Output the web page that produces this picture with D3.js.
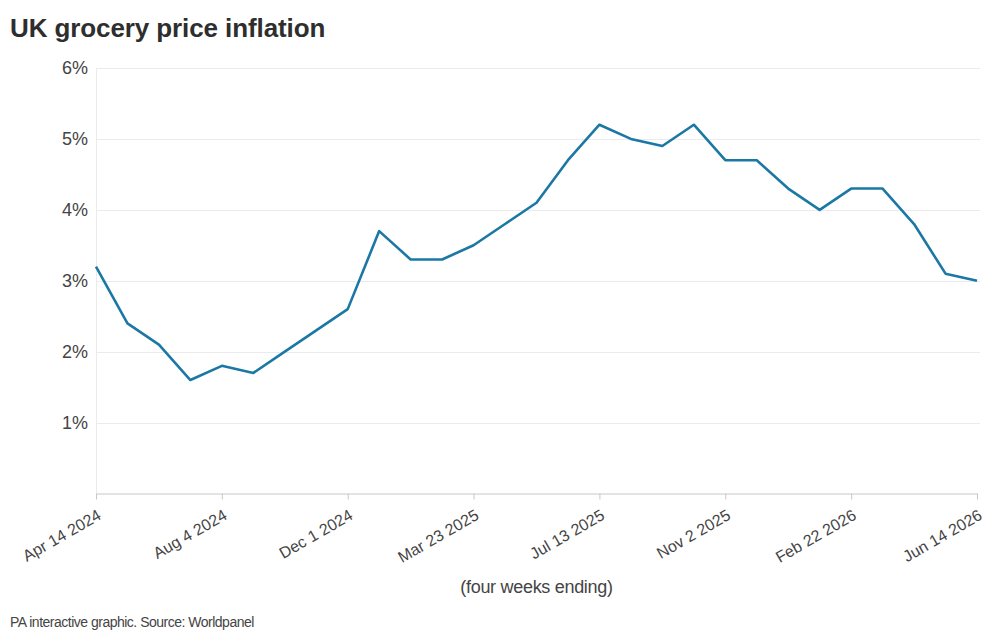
<!DOCTYPE html>
<html>
<head>
<meta charset="utf-8">
<script src="https://cdn.jsdelivr.net/npm/d3@7"></script>
<style>
    body { margin: 0; background: #fff; }
    svg { font-family: "Liberation Sans", Arial, sans-serif; }
    .grid line { stroke: #ebebeb; }
    .y.axis text { fill: #444; font-size: 18px; }
    .x.axis text { fill: #444; font-size: 16px; }
    .x.axis line, .x.axis path { stroke: #c8c8c8; }
    .linha { fill: none; stroke: #1b78a5; stroke-width: 2.6; stroke-linejoin: round; }
</style>
</head>
<body>
<div class="div-line-plot"></div>
<script>
// DATA

var periods = ["Apr 14 2024", "May 12 2024", "Jun 9 2024", "Jul 7 2024", "Aug 4 2024",
    "Sep 1 2024", "Sep 29 2024", "Oct 27 2024", "Dec 1 2024", "Dec 29 2024",
    "Jan 26 2025", "Feb 23 2025", "Mar 23 2025", "Apr 20 2025", "May 18 2025",
    "Jun 15 2025", "Jul 13 2025", "Aug 10 2025", "Sep 7 2025", "Oct 5 2025",
    "Nov 2 2025", "Nov 30 2025", "Dec 28 2025", "Jan 25 2026", "Feb 22 2026",
    "Mar 22 2026", "Apr 19 2026", "May 17 2026", "Jun 14 2026"];

var inflation = [3.2, 2.4, 2.1, 1.6, 1.8, 1.7, 2.0, 2.3, 2.6, 3.7,
    3.3, 3.3, 3.5, 3.8, 4.1, 4.7, 5.2, 5.0, 4.9, 5.2,
    4.7, 4.7, 4.3, 4.0, 4.3, 4.3, 3.8, 3.1, 3.0];

var xTickLabels = ["Apr 14 2024", "Aug 4 2024", "Dec 1 2024", "Mar 23 2025",
    "Jul 13 2025", "Nov 2 2025", "Feb 22 2026", "Jun 14 2026"];

var yTicks = [1, 2, 3, 4, 5, 6];

// VISUALIZATION

var width = 1000;
var height = 637;
var plotLeft = 96, plotRight = 977, plotTop = 68, plotBottom = 493.5;

var data = periods.map((p, i) => ({ period: p, value: inflation[i] }));

var svg = d3.select('.div-line-plot').append('svg')
    .attr('width', width)
    .attr('height', height);

svg.append("text")
    .attr("x", 10)
    .attr("y", 37)
    .attr("fill", "#2e2e2e")
    .style("font-size", "26px")
    .style("font-weight", "bold")
    .style("letter-spacing", "-0.1px")
    .text("UK grocery price inflation");

var x_scale = d3.scalePoint()
    .domain(periods)
    .range([plotLeft, plotRight]);

var y_scale = d3.scaleLinear()
    .domain([0, 6])
    .range([plotBottom, plotTop]);

// gridlines
svg.append("g")
    .attr("class", "grid")
    .selectAll("line")
    .data(yTicks)
    .join("line")
    .attr("x1", plotLeft)
    .attr("x2", plotRight + 3)
    .attr("y1", d => Math.round(y_scale(d)) + 0.5)
    .attr("y2", d => Math.round(y_scale(d)) + 0.5);

svg.append("line")
    .attr("x1", plotLeft + 0.5).attr("x2", plotLeft + 0.5)
    .attr("y1", plotTop).attr("y2", plotBottom)
    .attr("stroke", "#ebebeb");

var y_axis = d3.axisLeft(y_scale)
    .tickValues(yTicks)
    .tickSize(0)
    .tickPadding(8)
    .tickFormat(d => d + "%");

svg.append("g")
    .attr("class", "y axis")
    .attr("transform", "translate(" + plotLeft + ",0)")
    .call(y_axis)
    .call(g => g.select(".domain").remove());

var x_axis = d3.axisBottom(x_scale)
    .tickValues(xTickLabels)
    .tickSize(6)
    .tickSizeOuter(0);

svg.append("g")
    .attr("class", "x axis")
    .attr("transform", "translate(0," + plotBottom + ")")
    .call(x_axis)
    .selectAll("text")
    .attr("text-anchor", "end")
    .attr("dy", "0.35em")
    .attr("transform", "translate(3,20) rotate(-30)")
    .attr("x", 0)
    .attr("y", 0);

var line = d3.line()
    .x(d => x_scale(d.period))
    .y(d => y_scale(d.value));

svg.append("path")
    .attr("d", line(data))
    .attr("class", "linha");

svg.append("text")
    .attr("x", (plotLeft + plotRight) / 2)
    .attr("y", 593)
    .attr("text-anchor", "middle")
    .attr("fill", "#444")
    .style("font-size", "18px")
    .style("letter-spacing", "-0.3px")
    .text("(four weeks ending)");

svg.append("text")
    .attr("x", 10)
    .attr("y", 627)
    .attr("fill", "#444")
    .style("font-size", "14px")
    .style("letter-spacing", "-0.5px")
    .text("PA interactive graphic. Source: Worldpanel");
</script>
</body>
</html>
